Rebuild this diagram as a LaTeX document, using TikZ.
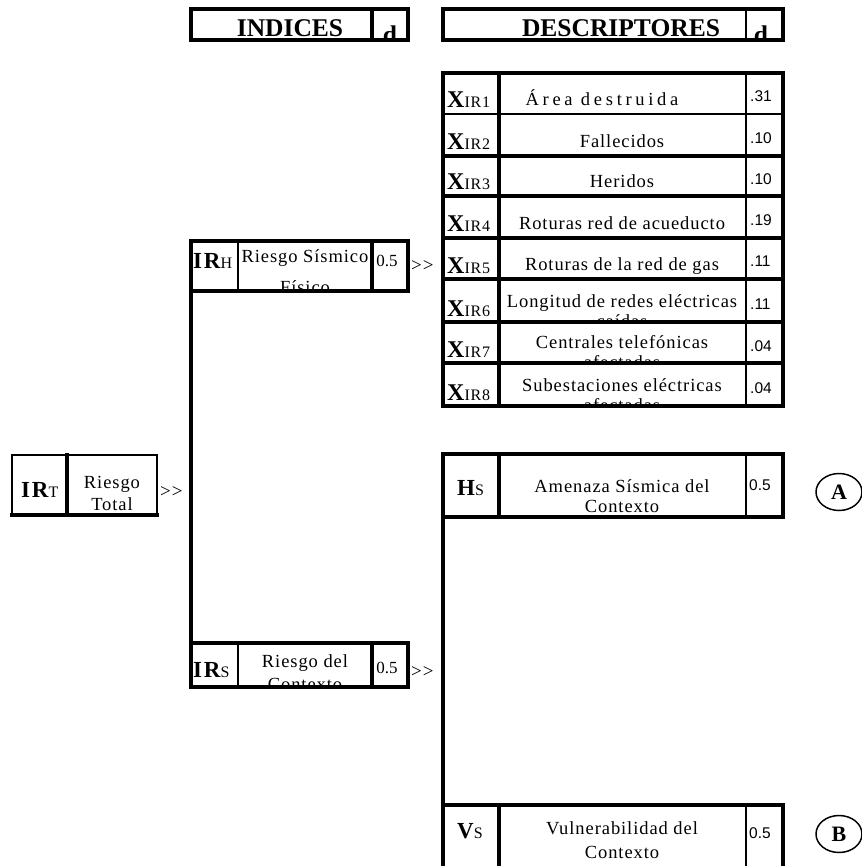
\documentclass[tikz,border=0pt]{standalone}
\usepackage{fontspec}
\setmainfont{Liberation Serif}
\newfontfamily\lsfont[LetterSpace=5]{Liberation Serif}
\newfontfamily\lswide[LetterSpace=20]{Liberation Serif}
\newfontfamily\lsbold[LetterSpace=8]{Liberation Serif}
\newfontfamily\arialf{Liberation Sans}
\usetikzlibrary{shapes.geometric}
\newcommand\XIR[1]{{\bfseries\fontsize{24}{24}\selectfont X}{\lsfont\fontsize{16}{16}\selectfont IR#1}}
\newcommand\BigSub[2]{{\lsbold\bfseries\fontsize{23}{23}\selectfont #1}{\lsfont\fontsize{16}{16}\selectfont #2}}
\begin{document}
\begin{tikzpicture}[x=1pt,y=-1pt,line cap=rect]
\tikzset{
 tk/.style={line width=3.2pt},
 tn/.style={line width=1.5pt},
 txt/.style={inner sep=0pt, outer sep=0pt, anchor=base},
 desc/.style={txt, font=\lsfont\fontsize{18.5}{20}\selectfont},
 dwide/.style={txt, font=\lswide\fontsize{18.5}{20}\selectfont},
 num/.style={inner sep=0pt, anchor=base west, font=\arialf\fontsize{15.5}{16}\selectfont},
 snum/.style={inner sep=0pt, anchor=base, font=\fontsize{17}{18}\selectfont},
 lbl/.style={inner sep=0pt, anchor=base west},
 gg/.style={inner sep=0pt, anchor=base west, font=\lsfont\fontsize{19}{20}\selectfont},
 hdr/.style={txt, font=\bfseries\fontsize{25.5}{26}\selectfont},
 circ/.style={draw, ellipse, line width=1.5pt, minimum width=46pt, minimum height=37pt, inner sep=0pt, font=\bfseries\fontsize{22}{22}\selectfont}
}
\useasboundingbox (0,0) rectangle (861,866);
\fill[white] (0,0) rectangle (861,866);

% ---------- headers ----------
\node[hdr] (hInd) at (290,37) {INDICES};
\begin{scope}\clip (372,9) rectangle (408,40); \node[hdr] (hIndD) at (390,44) {d}; \end{scope}
\node[hdr] (hDes) at (621,37) {DESCRIPTORES};
\begin{scope}\clip (746,9) rectangle (783,40); \node[hdr] (hDesD) at (761,44) {d}; \end{scope}
\draw[tk] (191,9) rectangle (408,40);
\draw[tk] (372,9) -- (372,40);
\draw[tk] (443,9) rectangle (783,40);
\draw[tn] (746,9) -- (746,40);

% ---------- descriptor rows ----------
\node[lbl] (x1) at (447,108) {\XIR1};
\node[dwide] (d1) at (602,106) {Área destruida};
\node[num] (n1) at (750,102) {.31};

\node[lbl] (x2) at (447,150) {\XIR2};
\node[desc] (d2) at (622,148) {Fallecidos};
\node[num] (n2) at (750,144) {.10};

\node[lbl] (x3) at (447,190) {\XIR3};
\node[desc] (d3) at (622,188) {Heridos};
\node[num] (n3) at (750,185) {.10};

\node[lbl] (x4) at (447,232) {\XIR4};
\node[desc] (d4) at (622,230) {Roturas red de acueducto};
\node[num] (n4) at (750,226) {.19};

\node[lbl] (x5) at (447,273) {\XIR5};
\node[desc] (d5) at (622,271) {Roturas de la red de gas};
\node[num] (n5) at (750,267) {.11};

\node[lbl] (x6) at (447,316) {\XIR6};
\node[desc] (d6) at (622,307) {Longitud de redes eléctricas};
\begin{scope}\clip (499,279) rectangle (746,322); \node[desc] (d6b) at (622,327) {caídas}; \end{scope}
\node[num] (n6) at (750,309) {.11};

\node[lbl] (x7) at (447,357) {\XIR7};
\node[desc] (d7) at (622,348) {Centrales telefónicas};
\begin{scope}\clip (499,322) rectangle (746,363); \node[desc] (d7b) at (622,368) {afectadas}; \end{scope}
\node[num] (n7) at (750,351) {.04};

\node[lbl] (x8) at (447,400) {\XIR8};
\node[desc] (d8) at (622,391) {Subestaciones eléctricas};
\begin{scope}\clip (499,363) rectangle (746,406); \node[desc] (d8b) at (622,411) {afectadas}; \end{scope}
\node[num] (n8) at (750,393) {.04};

\draw[tk] (443,73) rectangle (783,406);
\draw[tk] (499,73) -- (499,406);
\draw[tn] (746,73) -- (746,406);
\draw[tn] (443,114) -- (783,114);
\foreach \yy in {156,196,238,279,322,363} \draw[tk] (443,\yy) -- (783,\yy);

% ---------- IR_H ----------
\node[lbl] (irh) at (193,269) {\BigSub{IR}{H}};
\node[desc] (irhT) at (305,262) {Riesgo Sísmico};
\begin{scope}\clip (238,241) rectangle (372,290); \node[desc] (irhT2) at (305,294) {Físico}; \end{scope}
\node[snum] (irhN) at (387,267) {0.5};
\node[gg] (irhG) at (411,272) {>>};
\draw[tk] (191,241) rectangle (408,291);
\draw[tn] (238,241) -- (238,291);
\draw[tk] (372,241) -- (372,291);

% ---------- IR_S ----------
\node[lbl] (irs) at (193,677) {\BigSub{IR}{S}};
\node[desc] (irsT) at (305,667) {Riesgo del};
\begin{scope}\clip (238,643) rectangle (372,686); \node[desc] (irsT2) at (305,690) {Contexto}; \end{scope}
\node[snum] (irsN) at (387,673) {0.5};
\node[gg] (irsG) at (411,677) {>>};
\draw[tk] (191,643) rectangle (408,687);
\draw[tn] (238,643) -- (238,687);
\draw[tk] (372,643) -- (372,687);

% vertical link IR_H -> IR_S
\coordinate (vlTop) at (191,241);
\coordinate (vlBot) at (191,687);
\draw[tk] (vlTop) -- (vlBot);

% ---------- IR_T ----------
\node[lbl] (irt) at (21,497) {\BigSub{IR}{T}};
\node[desc] (irtT) at (112,488) {Riesgo};
\node[desc] (irtT2) at (112,510) {Total};
\node[gg] (irtG) at (160,497) {>>};
\draw[tn] (12,455) -- (157,455);
\draw[tn] (12,455) -- (12,515);
\draw[tn] (157,455) -- (157,515);
\draw[tk] (12,515) -- (157,515);
\draw[tk] (67,455) -- (67,515);

% ---------- H_S ----------
\node[lbl] (hs) at (457,495) {\BigSub{H}{S}};
\node[desc] (hsT) at (622,492) {Amenaza Sísmica del};
\node[desc] (hsT2) at (622,512) {Contexto};
\node[num] (hsN) at (749,490) {0.5};
\draw[tk] (443,454) rectangle (783,517);
\draw[tk] (499,454) -- (499,517);
\draw[tn] (746,454) -- (746,517);

% ---------- V_S ----------
\node[lbl] (vs) at (457,838) {\BigSub{V}{S}};
\node[desc] (vsT) at (622,834) {Vulnerabilidad del};
\node[desc] (vsT2) at (622,858) {Contexto};
\node[num] (vsN) at (749,838) {0.5};
\draw[tk] (443,805) -- (783,805);
\draw[tk] (499,805) -- (499,868);
\draw[tn] (746,805) -- (746,868);
\draw[tk] (783,805) -- (783,868);

% vertical link H_S -> V_S
\coordinate (v2Top) at (443,454);
\coordinate (v2Bot) at (443,868);
\draw[tk] (v2Top) -- (v2Bot);

% ---------- circles ----------
\node[circ] (cA) at (839,492) {A};
\node[circ] (cB) at (839,834) {B};
\end{tikzpicture}
\end{document}
